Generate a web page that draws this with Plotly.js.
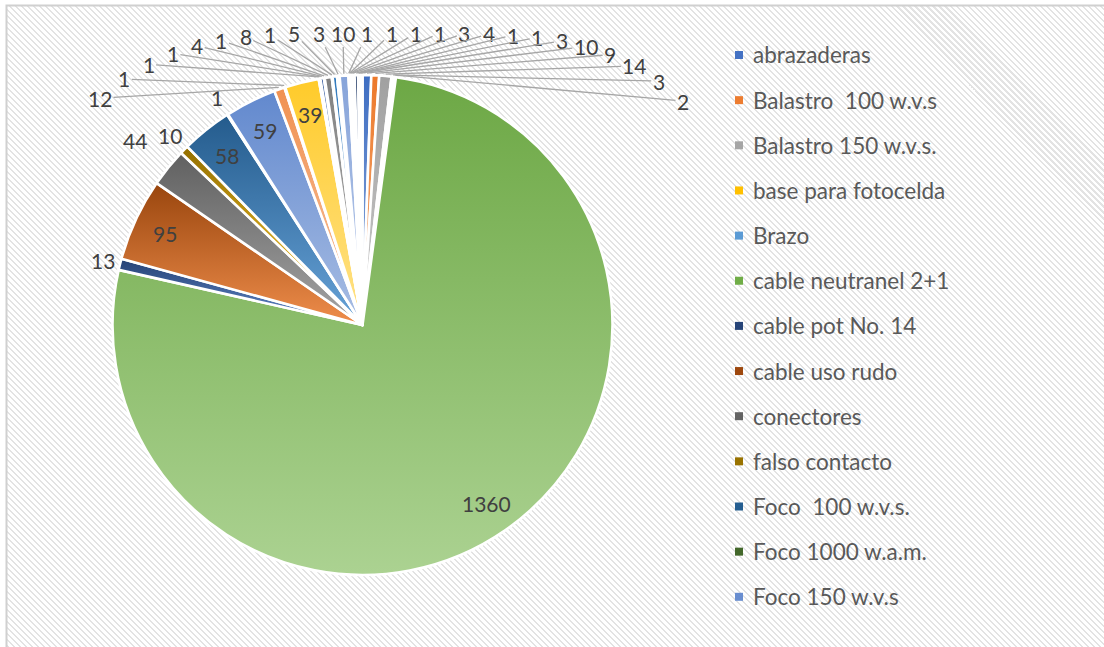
<!DOCTYPE html>
<html>
<head>
<meta charset="utf-8">
<script src="https://cdn.plot.ly/plotly-3.0.1.min.js"></script>
<style>
  html, body { margin: 0; padding: 0; background: #ffffff; overflow: hidden; }
  #bg { position: absolute; left: 7px; top: 6px; width: 1110px; height: 650px;
        background: repeating-linear-gradient(45deg, #ffffff 0px, #ffffff 2.8px, #e3e3e3 2.8px, #e3e3e3 4.24px); }
  #chart { position: absolute; left: 0; top: 0; width: 1104px; height: 647px; }
</style>
</head>
<body>
<div id="bg"></div>
<div id="chart"></div>
<script>
// ---------------- data ----------------
const categories = [
  'abrazaderas', 'Balastro  100 w.v.s', 'Balastro 150 w.v.s.', 'base para fotocelda', 'Brazo',
  'cable neutranel 2+1', 'cable pot No. 14', 'cable uso rudo', 'conectores', 'falso contacto',
  'Foco  100 w.v.s.', 'Foco 1000 w.a.m.', 'Foco 150 w.v.s',
  'Foco 250 w.v.s.', 'Foco 400 w.a.m.', 'fotocelda', 'fusible', 'gabinete', 'interruptor',
  'lámpara', 'luminaria', 'mufa', 'pastillas', 'pija', 'poste', 'reflector', 'reloj',
  'socket', 'taquete', 'tornillos', 'tubo', 'varilla', 'zapata', 'zoclo'
];
const values = [
  10, 9, 14, 3, 2,
  1360, 13, 95, 44, 10,
  58, 1, 59,
  12, 1, 39, 1, 1, 4,
  1, 8, 1, 5, 3, 10, 1,
  1, 1, 1, 3, 4, 1, 1, 3
];
const legendCount = 13;   // entries visible in the (truncated) legend

// ---------------- style ----------------
const colors = [
  '#4472C4', '#ED7D31', '#A5A5A5', '#FFC000', '#5B9BD5', '#70AD47',
  '#264478', '#9E480E', '#636363', '#997300', '#255E91', '#43682B',
  '#698ED0', '#F1975A', '#B7B7B7', '#FFCD33', '#7CAFDD', '#8CC168',
  '#335AA1', '#C55A11', '#848484', '#CC9A00', '#327DC2', '#5A8A39',
  '#8FAADC', '#F4B183', '#C9C9C9', '#FFD966', '#9DC3E6', '#A9D18E',
  '#203864', '#843C0C', '#525252', '#7F6000'
];
const nearOutside = { 'cable pot No. 14': 1.07, 'conectores': 1.17, 'falso contacto': 1.08, 'Foco 1000 w.a.m.': 1.08 };
const insideMin = 39;
const W = 1104, H = 647;
const CX = 362.5, CY = 325, R = 250;
const LABEL_FONT = { family: 'Lato, "Open Sans", sans-serif', size: 21, color: '#404040' };
const LEGEND_FONT = { family: 'Lato, "Open Sans", sans-serif', size: 22.5, color: '#595959' };

const px2x = p => p / W;
const py2y = p => 1 - p / H;

// geometry derived from the values
const total = values.reduce((a, b) => a + b, 0);
let run = 0;
const mids = values.map(v => { const m = (run + v / 2) / total * 360; run += v; return m; });
const pt = (deg, rho) => {
  const a = deg * Math.PI / 180;
  return [CX + rho * Math.sin(a), CY - rho * Math.cos(a)];
};

const annotations = [];
const fan = [];
values.forEach((v, i) => {
  const name = categories[i];
  if (nearOutside[name] !== undefined) {
    const [x, y] = pt(mids[i], R * nearOutside[name]);
    annotations.push({ xref: 'paper', yref: 'paper', x: px2x(x), y: py2y(y), text: String(v),
      showarrow: false, font: LABEL_FONT, xanchor: 'center', yanchor: 'middle' });
  } else if (v >= insideMin) {
    const [x, y] = pt(mids[i], R * 0.87);
    annotations.push({ xref: 'paper', yref: 'paper', x: px2x(x), y: py2y(y), text: String(v),
      showarrow: false, font: LABEL_FONT, xanchor: 'center', yanchor: 'middle' });
  } else {
    fan.push(i);
  }
});
// fanned labels with leader lines, ordered around the top of the pie
fan.sort((a, b) => ((mids[a] + 180) % 360) - ((mids[b] + 180) % 360));
const FX0 = 100, FX1 = 683;
fan.forEach((i, k) => {
  const lx = FX0 + k * (FX1 - FX0) / (fan.length - 1);
  const ly = 33 + 68 * Math.pow(Math.abs(lx - 390) / 293, 4);
  const [tx, ty] = pt(mids[i], R + 2);
  annotations.push({ xref: 'paper', yref: 'paper', x: px2x(tx), y: py2y(ty), text: String(values[i]),
    showarrow: true, arrowhead: 0, arrowwidth: 1.3, arrowcolor: '#A6A6A6', standoff: 0,
    ax: lx - tx, ay: ly - ty, font: LABEL_FONT });
});

// custom (truncated) legend
const shapes = [];
for (let i = 0; i < legendCount; i++) {
  const y = 55 + i * 45.15;
  shapes.push({ type: 'rect', xref: 'paper', yref: 'paper',
    x0: px2x(735), x1: px2x(743), y0: py2y(y + 4), y1: py2y(y - 4),
    fillcolor: colors[i], line: { width: 0 } });
  annotations.push({ xref: 'paper', yref: 'paper', x: px2x(751), y: py2y(y), text: categories[i],
    showarrow: false, xanchor: 'left', yanchor: 'middle', font: LEGEND_FONT });
}
// chart border
shapes.push({ type: 'rect', xref: 'paper', yref: 'paper', x0: px2x(6.5), x1: 1.05, y0: -0.05, y1: py2y(5.5),
  line: { color: '#D0D0D0', width: 2 }, fillcolor: 'rgba(0,0,0,0)' });

const trace = {
  type: 'pie', labels: categories, values: values, sort: false, direction: 'clockwise', rotation: 0,
  marker: { colors: colors, line: { color: '#ffffff', width: 2.6 } },
  textinfo: 'none', hoverinfo: 'none', showlegend: false,
  domain: { x: [(CX - R) / W, (CX + R) / W], y: [1 - (CY + R) / H, 1 - (CY - R) / H] }
};

const layout = {
  width: W, height: H, margin: { l: 0, r: 0, t: 0, b: 0 },
  paper_bgcolor: 'rgba(0,0,0,0)', plot_bgcolor: 'rgba(0,0,0,0)',
  showlegend: false, annotations: annotations, shapes: shapes
};

function hexToHsl(hex) {
  const r = parseInt(hex.slice(1, 3), 16) / 255, g = parseInt(hex.slice(3, 5), 16) / 255, b = parseInt(hex.slice(5, 7), 16) / 255;
  const mx = Math.max(r, g, b), mn = Math.min(r, g, b);
  let h = 0, s = 0; const l = (mx + mn) / 2;
  if (mx !== mn) {
    const d = mx - mn;
    s = l > 0.5 ? d / (2 - mx - mn) : d / (mx + mn);
    if (mx === r) h = (g - b) / d + (g < b ? 6 : 0);
    else if (mx === g) h = (b - r) / d + 2;
    else h = (r - g) / d + 4;
    h /= 6;
  }
  return [h, s, l];
}
function hslToCss(h, s, l) { return 'hsl(' + (h * 360).toFixed(1) + ',' + (s * 100).toFixed(1) + '%,' + (l * 100).toFixed(1) + '%)'; }

Plotly.newPlot('chart', [trace], layout, { staticPlot: true, displayModeBar: false }).then(gd => {
  const NS = 'http://www.w3.org/2000/svg';
  const svg = gd.querySelector('svg.main-svg');
  let defs = svg.querySelector('defs');
  if (!defs) { defs = document.createElementNS(NS, 'defs'); svg.insertBefore(defs, svg.firstChild); }
  gd.querySelectorAll('g.slice').forEach(g => {
    const d = g.__data__;
    const idx = d && d.i !== undefined ? d.i : 0;
    const [h, s, l] = hexToHsl(colors[idx]);
    const grad = document.createElementNS(NS, 'linearGradient');
    grad.setAttribute('id', 'sliceGrad' + idx);
    grad.setAttribute('x1', '0'); grad.setAttribute('y1', '0');
    grad.setAttribute('x2', '0'); grad.setAttribute('y2', '1');
    const s0 = document.createElementNS(NS, 'stop');
    s0.setAttribute('offset', '0'); s0.setAttribute('stop-color', hslToCss(h, s, l * 0.97));
    const s1 = document.createElementNS(NS, 'stop');
    s1.setAttribute('offset', '1'); s1.setAttribute('stop-color', hslToCss(h, s, l + (1 - l) * 0.42));
    grad.appendChild(s0); grad.appendChild(s1);
    defs.appendChild(grad);
    const path = g.querySelector('path.surface');
    if (path) path.style.fill = 'url(#sliceGrad' + idx + ')';
  });
});
</script>
</body>
</html>
